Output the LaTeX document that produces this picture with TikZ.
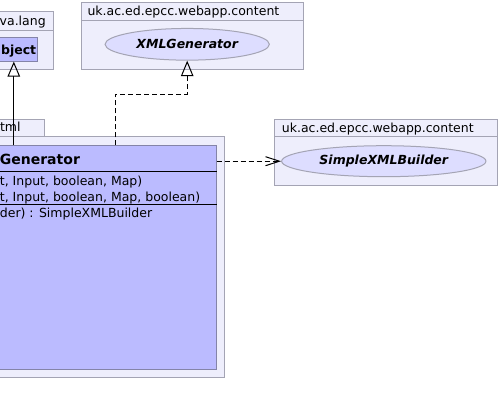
\documentclass[tikz,border=0pt]{standalone}
\usepackage{fontspec}
\setmainfont{DejaVu Sans}
\usepackage{tikz}
\usetikzlibrary{shapes.geometric,arrows.meta}

\definecolor{pkgfill}{HTML}{EEEEFC}
\definecolor{pkgline}{HTML}{A4A4B4}
\definecolor{clsfill}{HTML}{BBBBFF}
\definecolor{clsline}{HTML}{8484A8}
\definecolor{ellfill}{HTML}{DDDDFF}

\tikzset{
  pkg/.style={draw=pkgline, fill=pkgfill, line width=1pt},
  pkglabel/.style={anchor=base west, inner sep=0pt, font=\fontsize{12.5}{15}\selectfont},
  cls/.style={rectangle, draw=clsline, fill=clsfill, line width=1pt, inner sep=0pt},
  iface/.style={ellipse, draw=pkgline, fill=ellfill, line width=1pt, inner sep=0pt,
    font=\fontsize{12.5}{15}\selectfont\bfseries\itshape},
  member/.style={anchor=base west, inner sep=0pt, font=\fontsize{12.5}{15}\selectfont},
  inherit/.style={line width=1pt, -{Triangle[open, length=15pt, width=12.5pt, line width=1pt]}},
  realize/.style={line width=1pt, dash pattern=on 5pt off 3pt,
    -{Triangle[open, length=15.5pt, width=12.5pt, line width=1pt]}},
  depend/.style={line width=1pt, dash pattern=on 5pt off 3pt,
    -{Straight Barb[length=14pt, width=9pt, line width=1pt]}}
}

\begin{document}
\begin{tikzpicture}[x=1pt, y=-1pt]
    \useasboundingbox (0,0) rectangle (500,415);
    \clip (0,0) rectangle (500,415);

    % java.lang package with Object
    \begin{scope}
        \filldraw[pkg] (-60,11.7) rectangle (53.3,69.3);
        \draw[pkgline, line width=1pt] (-60,30) -- (53.3,30);
        \node[pkglabel] (jlabel) at (-0.5,25) {va.lang};
        \node[cls, minimum width=47.5pt, minimum height=23.7pt] (obj) at (13.8,49.2) {};
        \node[member, anchor=base east, font=\fontsize{12.5}{15}\selectfont\bfseries] (objname) at (36.4,54.3) {bject};
    \end{scope}

    % content package with XMLGenerator
    \begin{scope}
        \filldraw[pkg] (81.3,2.3) rectangle (303,69.3);
        \draw[pkgline, line width=1pt] (81.3,20) -- (303,20);
        \node[pkglabel] (clabel) at (87.3,15.5) {uk.ac.ed.epcc.webapp.content};
        \node[iface, minimum width=164.3pt, minimum height=31.7pt] (xmlgen) at (187.2,44.3) {XMLGenerator};
    \end{scope}

    % html package with the generator class
    \begin{scope}
        \filldraw[pkg] (-60,119.3) rectangle (44.3,136.7);
        \filldraw[pkg] (-60,136.7) rectangle (224.7,377);
        \node[pkglabel, anchor=base east] (hlabel) at (20.8,131.7) {tml};
        \node[cls, anchor=north east, minimum width=306.7pt, minimum height=223.7pt] (gen) at (216.7,145.3) {};
        \draw[line width=1pt] (gen.west |- 0,171.3) -- (gen.east |- 0,171.3);
        \draw[line width=1pt] (gen.west |- 0,204.3) -- (gen.east |- 0,204.3);
        \node[member, font=\fontsize{14}{17}\selectfont\bfseries] (gname) at (-0.3,164.3) {Generator};
        \node[member] (op1) at (-0.3,185) {t, Input, boolean, Map)};
        \node[member] (op2) at (-0.3,201) {t, Input, boolean, Map, boolean)};
        \node[member] (op3) at (-0.3,217.3) {der) : SimpleXMLBuilder};
    \end{scope}

    % content package with SimpleXMLBuilder
    \begin{scope}
        \filldraw[pkg] (274.3,119.3) rectangle (497.5,185);
        \draw[pkgline, line width=1pt] (274.3,136.7) -- (497.5,136.7);
        \node[pkglabel] (slabel) at (281.7,132) {uk.ac.ed.epcc.webapp.content};
        \node[iface, minimum width=204.3pt, minimum height=31pt] (sxb) at (383.8,161.2) {SimpleXMLBuilder};
    \end{scope}

    % connectors
    \coordinate (bend) at (115.3,94.3);
    \draw[inherit] (gen.north -| obj.south) -- (obj.south);
    \draw[realize] (gen.north -| bend) |- (bend -| xmlgen.south) -- (xmlgen.south);
    \draw[depend] (gen.east |- sxb.west) -- (sxb.west);
\end{tikzpicture}
\end{document}
